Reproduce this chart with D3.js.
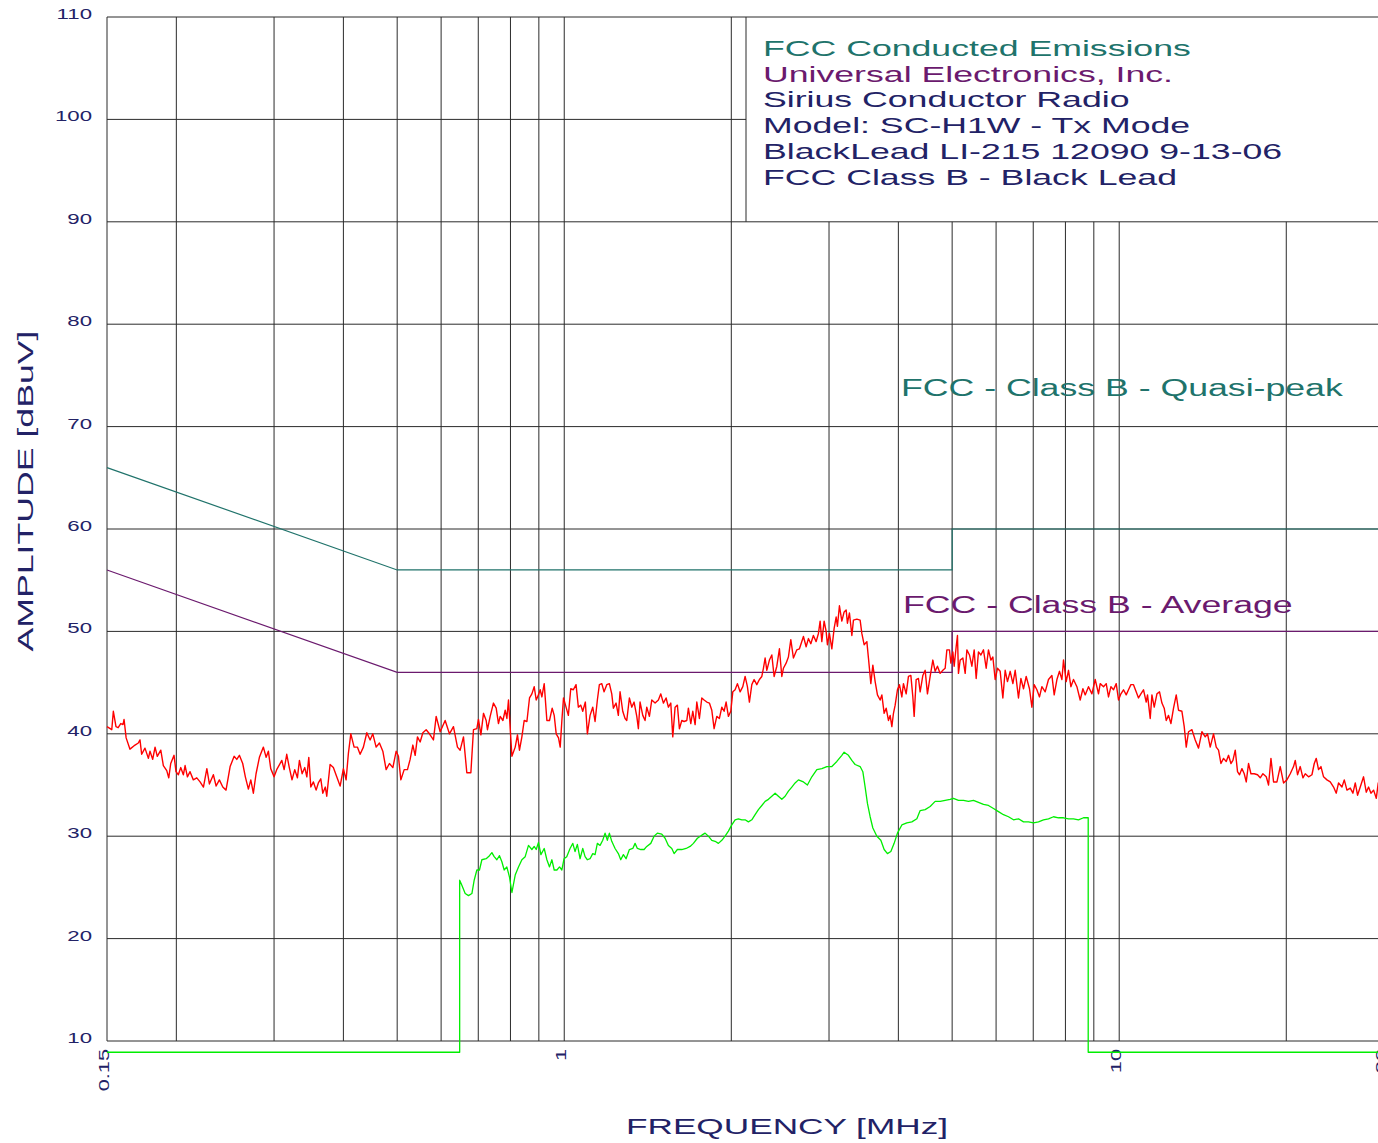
<!DOCTYPE html>
<html>
<head>
<meta charset="utf-8">
<script src="https://d3js.org/d3.v7.min.js"></script>
<style>
  html, body { margin: 0; padding: 0; background: #fff; overflow: hidden; }
  svg { display: block; font-family: "Liberation Sans", Arial, sans-serif; }
</style>
</head>
<body>
<svg id="chart" width="1378" height="1143"></svg>
<script>
// grid + tick values
const freqGrid = [0.15, 0.2, 0.3, 0.4, 0.5, 0.6, 0.7, 0.8, 0.9, 1, 2, 3, 4, 5, 6, 7, 8, 9, 10, 20, 30];
const freqLabels = [0.15, 1, 10, 30];
const ampTicks = [10, 20, 30, 40, 50, 60, 70, 80, 90, 100, 110];

const legendLines = [
    "FCC Conducted Emissions",
    "Universal Electronics, Inc.",
    "Sirius Conductor Radio",
    "Model: SC-H1W - Tx Mode",
    "BlackLead LI-215 12090 9-13-06",
    "FCC Class B - Black Lead"
];

// FCC class B limits [MHz, dBuV]
const qpLimit = [[0.15, 66], [0.5, 56], [5, 56], [5, 60], [30, 60]];
const avgLimit = [[0.15, 56], [0.5, 46], [5, 46], [5, 50], [30, 50]];

// peak sweep (red) [MHz, dBuV]
const peakData = [
[0.1500,40.7],[0.1530,40.4],[0.1540,42.2],[0.1557,40.7],[0.1571,40.6],[0.1588,41.0],[0.1603,40.9],[0.1610,41.4],[0.1624,39.6],[0.1650,38.5],
[0.1685,38.9],[0.1708,39.1],[0.1720,39.4],[0.1732,38.0],[0.1756,38.6],[0.1781,37.6],[0.1793,38.3],[0.1813,37.5],[0.1831,38.7],[0.1848,37.8],
[0.1875,38.4],[0.1895,36.9],[0.1922,36.4],[0.1938,35.7],[0.1954,37.1],[0.1981,37.9],[0.1997,36.3],[0.2017,36.0],[0.2037,36.7],[0.2059,36.0],
[0.2074,36.9],[0.2094,35.8],[0.2117,36.3],[0.2146,35.5],[0.2177,35.7],[0.2207,35.3],[0.2238,34.8],[0.2270,36.6],[0.2294,35.1],[0.2332,36.0],
[0.2359,34.9],[0.2391,35.5],[0.2425,34.8],[0.2458,34.5],[0.2500,36.8],[0.2542,37.8],[0.2570,37.5],[0.2598,37.9],[0.2634,37.1],[0.2663,35.8],
[0.2697,34.6],[0.2724,35.5],[0.2753,34.2],[0.2784,36.1],[0.2823,37.7],[0.2870,38.7],[0.2903,37.7],[0.2930,38.3],[0.2959,36.6],[0.3000,35.8],
[0.3033,36.5],[0.3098,37.4],[0.3128,36.5],[0.3162,38.0],[0.3196,36.7],[0.3232,35.5],[0.3269,36.5],[0.3305,35.7],[0.3333,37.4],[0.3370,36.1],
[0.3408,36.7],[0.3437,35.8],[0.3465,37.7],[0.3494,34.8],[0.3532,35.3],[0.3572,34.5],[0.3605,35.2],[0.3642,35.6],[0.3672,34.2],[0.3711,34.8],
[0.3733,33.9],[0.3785,37.0],[0.3837,36.7],[0.3891,35.8],[0.3946,34.9],[0.4000,36.6],[0.4045,35.5],[0.4084,38.1],[0.4125,40.0],[0.4182,38.7],
[0.4239,38.7],[0.4287,38.0],[0.4346,38.7],[0.4408,40.1],[0.4469,39.4],[0.4519,40.0],[0.4582,38.7],[0.4645,39.1],[0.4711,38.3],[0.4776,36.5],
[0.4842,37.1],[0.4911,36.7],[0.4979,38.3],[0.5026,37.8],[0.5077,35.5],[0.5147,36.5],[0.5218,36.5],[0.5276,37.5],[0.5336,38.9],[0.5387,37.9],
[0.5439,39.7],[0.5500,39.2],[0.5562,40.1],[0.5639,40.4],[0.5716,40.0],[0.5812,39.4],[0.5878,41.7],[0.5976,40.2],[0.6101,41.3],[0.6211,40.0],
[0.6315,40.7],[0.6421,38.7],[0.6493,38.4],[0.6583,39.7],[0.6675,36.2],[0.6788,36.2],[0.6862,40.4],[0.6958,40.5],[0.7006,41.4],[0.7076,39.9],
[0.7153,42.0],[0.7233,41.3],[0.7272,40.4],[0.7354,41.7],[0.7454,43.0],[0.7540,42.5],[0.7612,41.0],[0.7666,41.7],[0.7753,41.3],[0.7827,42.3],
[0.7882,41.5],[0.7935,43.3],[0.8048,37.8],[0.8159,38.7],[0.8236,39.9],[0.8305,38.4],[0.8388,39.7],[0.8469,41.3],[0.8565,41.2],[0.8658,43.5],
[0.8744,43.9],[0.8828,44.6],[0.8902,43.3],[0.8986,43.8],[0.9050,44.3],[0.9114,43.6],[0.9202,44.9],[0.9305,41.3],[0.9407,41.3],[0.9512,42.5],
[0.9592,41.8],[0.9672,40.0],[0.9765,39.6],[0.9834,38.7],[0.9902,41.3],[0.9969,43.5],[1.0075,42.6],[1.0172,41.8],[1.0274,44.4],[1.0385,44.3],
[1.0502,44.8],[1.0603,42.6],[1.0709,42.8],[1.0798,42.2],[1.0915,43.1],[1.1007,40.0],[1.1131,41.8],[1.1255,42.6],[1.1364,41.2],[1.1473,43.3],
[1.1569,44.8],[1.1685,44.9],[1.1797,44.1],[1.1930,44.8],[1.2059,44.9],[1.2179,43.9],[1.2261,42.5],[1.2399,43.0],[1.2517,41.8],[1.2606,44.1],
[1.2747,42.2],[1.2871,41.5],[1.2962,41.3],[1.3103,43.5],[1.3233,42.6],[1.3361,43.1],[1.3512,41.7],[1.3601,40.5],[1.3697,43.1],[1.3851,41.8],
[1.3985,41.3],[1.4083,42.6],[1.4237,41.7],[1.4379,43.3],[1.4578,43.0],[1.4779,43.3],[1.4927,43.9],[1.5089,43.0],[1.5259,43.5],[1.5405,42.6],
[1.5559,43.0],[1.5688,39.7],[1.5840,42.6],[1.5991,42.8],[1.6125,40.5],[1.6285,41.3],[1.6442,41.2],[1.6628,41.3],[1.6738,42.5],[1.6905,41.0],
[1.7047,42.2],[1.7211,40.9],[1.7333,43.1],[1.7520,41.5],[1.7695,43.5],[1.7865,43.3],[1.8066,43.1],[1.8263,43.0],[1.8445,42.3],[1.8623,40.5],
[1.8832,41.7],[1.9036,41.5],[1.9227,42.6],[1.9411,42.2],[1.9573,43.1],[1.9761,41.7],[1.9957,42.2],[2.0125,44.1],[2.0318,44.3],[2.0513,44.9],
[2.0743,44.1],[2.0977,44.6],[2.1179,45.6],[2.1382,44.6],[2.1560,43.1],[2.1776,44.8],[2.1985,45.3],[2.2231,44.8],[2.2474,45.3],[2.2699,45.6],
[2.2850,46.4],[2.3012,47.4],[2.3175,46.2],[2.3426,47.2],[2.3661,47.7],[2.3888,45.6],[2.4157,46.6],[2.4419,48.3],[2.4663,45.6],[2.4826,46.4],
[2.5107,46.9],[2.5348,47.5],[2.5601,49.2],[2.5879,47.4],[2.6247,48.2],[2.6533,48.3],[2.6978,49.5],[2.7281,48.5],[2.7541,49.3],[2.7816,48.8],
[2.8114,49.6],[2.8436,49.0],[2.8709,49.8],[2.8912,51.0],[2.9116,49.0],[2.9397,51.0],[2.9643,50.0],[2.9801,48.7],[3.0049,49.8],[3.0351,48.3],
[3.0643,50.3],[3.0899,51.4],[3.1064,50.5],[3.1323,52.5],[3.1636,51.0],[3.1940,51.9],[3.2207,52.1],[3.2380,50.8],[3.2652,51.8],[3.2980,49.6],
[3.3199,51.1],[3.3669,51.2],[3.4132,51.1],[3.4374,49.8],[3.4705,48.7],[3.5097,49.0],[3.5329,47.4],[3.5683,44.9],[3.5981,46.7],[3.6326,45.1],
[3.6674,43.8],[3.7087,43.3],[3.7350,43.8],[3.7709,42.0],[3.8025,42.5],[3.8387,41.3],[3.8658,41.8],[3.8932,40.7],[3.9192,42.0],[3.9470,42.8],
[3.9848,44.3],[4.0180,44.8],[4.0581,43.6],[4.0853,44.9],[4.1314,43.9],[4.1709,45.6],[4.2126,45.7],[4.2475,43.6],[4.2708,41.7],[4.3064,45.3],
[4.3476,45.4],[4.3784,44.1],[4.4276,45.7],[4.4703,46.2],[4.5130,43.9],[4.5639,45.6],[4.6150,47.2],[4.6597,46.1],[4.7043,46.6],[4.7573,45.9],
[4.8109,46.2],[4.8572,46.4],[4.8915,48.2],[4.9445,48.2],[4.9733,46.9],[5.0144,48.0],[5.0420,46.6],[5.0840,48.5],[5.1115,49.6],[5.1327,45.9],
[5.1690,47.2],[5.2272,47.4],[5.2776,45.9],[5.3150,48.2],[5.3727,47.7],[5.4263,46.6],[5.4785,48.2],[5.5241,45.4],[5.5771,48.0],[5.6332,47.7],
[5.6940,48.2],[5.7583,46.4],[5.8133,48.2],[5.8718,47.2],[5.9203,47.5],[5.9772,45.3],[6.0345,46.4],[6.1025,46.1],[6.1708,43.5],[6.2306,46.2],
[6.2902,45.1],[6.3611,46.1],[6.4330,44.9],[6.4947,46.2],[6.5841,43.5],[6.6503,45.4],[6.7225,44.4],[6.7982,45.6],[6.8917,44.4],[6.9604,42.6],
[7.0273,44.8],[7.1065,44.3],[7.1838,43.6],[7.2557,44.6],[7.3557,44.1],[7.4571,45.3],[7.5631,45.7],[7.6357,43.8],[7.7222,45.3],[7.8057,46.1],
[7.8836,45.3],[7.9364,47.2],[8.0257,45.1],[8.1025,46.2],[8.1837,44.6],[8.2724,45.3],[8.3900,44.6],[8.5055,43.3],[8.6016,44.4],[8.6841,43.8],
[8.8038,44.6],[8.9290,43.9],[9.0519,45.3],[9.1768,43.9],[9.2417,44.9],[9.3702,44.6],[9.4749,44.9],[9.5657,43.6],[9.6620,44.6],[9.7672,44.3],
[9.8768,44.9],[9.9710,43.3],[10.071,43.9],[10.180,44.3],[10.295,43.8],[10.393,44.3],[10.497,44.8],[10.611,44.8],[10.729,44.1],[10.833,43.5],
[10.941,43.9],[11.060,44.3],[11.185,43.1],[11.246,43.8],[11.373,41.5],[11.454,43.8],[11.564,42.6],[11.694,43.9],[11.821,44.1],[11.939,43.0],
[12.053,42.5],[12.154,41.3],[12.270,41.8],[12.393,41.0],[12.528,42.5],[12.669,43.8],[12.790,42.3],[12.971,42.2],[13.096,40.7],[13.206,38.7],
[13.332,40.2],[13.522,40.4],[13.708,39.4],[13.897,38.6],[14.094,40.2],[14.289,39.7],[14.425,40.0],[14.587,38.7],[14.789,40.0],[14.956,38.7],
[15.100,38.4],[15.250,37.1],[15.416,37.6],[15.590,37.3],[15.739,37.9],[15.896,37.1],[16.029,37.4],[16.183,38.4],[16.338,36.3],[16.475,36.0],
[16.640,36.6],[16.799,36.1],[16.939,35.3],[17.101,37.1],[17.272,36.1],[17.510,36.1],[17.752,36.0],[17.952,35.7],[18.154,36.1],[18.406,35.8],
[18.581,35.0],[18.768,37.6],[18.973,35.3],[19.240,35.3],[19.505,36.8],[19.774,35.2],[20.050,35.5],[20.332,36.1],[20.612,36.8],[20.759,37.4],
[20.957,36.0],[21.193,36.8],[21.433,35.7],[21.639,36.1],[21.936,35.8],[22.248,36.0],[22.462,37.1],[22.649,37.6],[22.866,36.5],[23.095,36.8],
[23.345,35.8],[23.678,35.5],[24.003,35.3],[24.337,34.8],[24.609,34.2],[24.845,35.2],[25.198,34.8],[25.440,35.5],[25.727,34.5],[26.081,34.7],
[26.373,34.2],[26.628,35.2],[26.882,34.0],[27.185,34.8],[27.559,35.8],[27.871,34.3],[28.139,34.8],[28.421,34.2],[28.733,34.5],[29.053,33.7],
[29.294,35.2],[30.000,34.4]
];

// average sweep (green) [MHz, dBuV]
const avgData = [
[0.15,8.9],[0.6480,8.9],[0.6480,25.7],[0.6539,25.2],[0.6630,24.4],[0.6721,24.2],[0.6817,24.4],[0.6882,25.7],[0.6959,26.7],[0.7035,26.7],
[0.7105,27.7],[0.7233,27.8],[0.7333,28.1],[0.7406,28.4],[0.7477,28.0],[0.7561,27.7],[0.7644,28.1],[0.7720,27.5],[0.7794,26.7],[0.7880,27.0],
[0.7968,26.0],[0.8048,24.5],[0.8159,26.2],[0.8271,27.0],[0.8388,27.7],[0.8504,28.0],[0.8621,29.1],[0.8744,28.7],[0.8828,29.0],[0.8902,28.7],
[0.8986,29.4],[0.9077,28.2],[0.9202,28.8],[0.9305,27.7],[0.9407,27.0],[0.9500,27.7],[0.9592,26.7],[0.9700,26.7],[0.9806,27.0],[0.9902,26.7],
[0.9992,27.8],[1.0104,28.0],[1.0244,28.8],[1.0362,29.3],[1.0459,28.5],[1.0559,29.2],[1.0678,27.8],[1.0798,28.8],[1.0903,28.0],[1.1007,27.7],
[1.1131,27.8],[1.1255,28.3],[1.1364,28.2],[1.1473,29.3],[1.1603,29.1],[1.1732,29.6],[1.1846,30.3],[1.1959,29.6],[1.2059,30.3],[1.2179,29.5],
[1.2348,28.8],[1.2517,28.3],[1.2642,27.7],[1.2780,28.2],[1.2924,27.8],[1.3103,28.7],[1.3290,28.8],[1.3417,29.3],[1.3545,28.8],[1.3737,28.7],
[1.3927,28.7],[1.4083,29.0],[1.4319,29.3],[1.4517,30.0],[1.4717,30.3],[1.4988,30.2],[1.5196,29.8],[1.5405,29.1],[1.5624,28.8],[1.5774,28.3],
[1.5991,28.7],[1.6285,28.7],[1.6579,28.8],[1.6857,29.0],[1.7090,29.3],[1.7375,29.8],[1.7695,30.1],[1.7939,30.3],[1.8187,30.0],[1.8445,29.6],
[1.8700,29.5],[1.8957,29.3],[1.9227,29.6],[1.9492,30.0],[1.9761,30.5],[2.0040,31.1],[2.0318,31.6],[2.0598,31.7],[2.0890,31.6],[2.1179,31.6],
[2.1471,31.4],[2.1776,31.6],[2.2077,32.1],[2.2381,32.6],[2.2699,33.0],[2.3012,33.4],[2.3329,33.6],[2.3661,33.9],[2.3987,34.2],[2.4317,33.9],
[2.4663,33.6],[2.5003,33.9],[2.5348,34.4],[2.5709,34.8],[2.6063,35.2],[2.6423,35.5],[2.6978,35.3],[2.7427,35.0],[2.7934,35.8],[2.8519,36.5],
[2.9118,36.6],[2.9728,36.8],[3.0353,36.8],[3.0988,37.3],[3.1638,37.9],[3.1940,38.2],[3.2515,37.9],[3.2980,37.4],[3.3433,37.0],[3.4132,36.8],
[3.4517,36.3],[3.4849,34.8],[3.5183,33.2],[3.5579,31.9],[3.5981,30.8],[3.6584,30.0],[3.7195,29.6],[3.7709,28.7],[3.8228,28.3],[3.8771,28.5],
[3.9306,29.3],[3.9848,30.3],[4.0581,31.1],[4.1435,31.3],[4.2305,31.4],[4.3190,31.7],[4.3784,32.5],[4.4703,32.6],[4.5639,32.9],[4.6597,33.4],
[4.7573,33.4],[4.8572,33.5],[4.9589,33.6],[5.0273,33.7],[5.1327,33.5],[5.2414,33.5],[5.3502,33.4],[5.4633,33.5],[5.5771,33.3],[5.6940,33.1],
[5.8133,33.0],[5.9355,32.7],[6.0597,32.4],[6.1868,32.1],[6.3165,31.9],[6.4489,31.6],[6.5841,31.7],[6.7225,31.4],[6.8631,31.4],[7.0072,31.3],
[7.1540,31.4],[7.3042,31.6],[7.4571,31.7],[7.6138,31.9],[7.7731,31.8],[7.9364,31.8],[8.1025,31.7],[8.2724,31.7],[8.4458,31.6],[8.6231,31.8],
[8.7468,31.8],[8.7927,31.8],[8.7927,8.9],[30,8.9]
];

const svg = d3.select("#chart");

// plot frame in pixels
const plotLeft = 107, plotRight = 1384, plotTop = 17, plotBottom = 1041;
const boxLeft = 746; // legend box left edge

const x = d3.scaleLog().domain([0.15, 30]).range([plotLeft, plotRight]);
const y = d3.scaleLinear().domain([10, 110]).range([plotBottom, plotTop]);

const gridColor = "#2b2b2b";
const navy = "#222266";
const teal = "#20736b";
const purple = "#6b1a6e";

// stretch text horizontally like the original wide lettering
function stretch(sel, k) {
    sel.each(function () {
        const w = this.getComputedTextLength();
        d3.select(this).attr("textLength", w * k).attr("lengthAdjust", "spacingAndGlyphs");
    });
}

// --- grid ---
const grid = svg.append("g").attr("stroke", gridColor).attr("stroke-width", 1);

grid.selectAll("line.v")
    .data(freqGrid)
    .enter().append("line")
    .attr("x1", d => x(d)).attr("x2", d => x(d))
    .attr("y1", d => x(d) > boxLeft ? y(90) : y(110))
    .attr("y2", y(10));

grid.selectAll("line.h")
    .data(ampTicks)
    .enter().append("line")
    .attr("x1", plotLeft)
    .attr("x2", d => d === 100 ? boxLeft : plotRight)
    .attr("y1", d => y(d)).attr("y2", d => y(d));

// legend box border
grid.append("line")
    .attr("x1", boxLeft).attr("x2", boxLeft)
    .attr("y1", y(110)).attr("y2", y(90));

// --- y tick labels ---
svg.append("g").selectAll("text")
    .data(ampTicks)
    .enter().append("text")
    .attr("x", 92)
    .attr("y", d => y(d) + 2)
    .attr("text-anchor", "end")
    .attr("font-size", 15)
    .attr("fill", navy)
    .text(d => d)
    .call(stretch, 1.48);

// --- x tick labels (rotated) ---
svg.append("g").selectAll("text")
    .data(freqLabels)
    .enter().append("text")
    .attr("transform", d => `translate(${x(d) + 1.5},${plotBottom + 8}) rotate(-90)`)
    .attr("text-anchor", "end")
    .attr("font-size", 15)
    .attr("fill", navy)
    .text(d => d)
    .call(stretch, 1.45);

// --- axis titles ---
svg.append("text")
    .attr("transform", `translate(33,491) rotate(-90)`)
    .attr("text-anchor", "middle")
    .attr("font-size", 22)
    .attr("fill", navy)
    .text("AMPLITUDE [dBuV]")
    .call(stretch, 1.62);

svg.append("text")
    .attr("x", 787)
    .attr("y", 1134)
    .attr("text-anchor", "middle")
    .attr("font-size", 22)
    .attr("fill", navy)
    .text("FREQUENCY [MHz]")
    .call(stretch, 1.6);

// --- limit lines ---
const line = d3.line().x(d => x(d[0])).y(d => y(d[1]));

svg.append("path").datum(qpLimit)
    .attr("fill", "none").attr("stroke", teal).attr("stroke-width", 1.2)
    .attr("d", line);

svg.append("path").datum(avgLimit)
    .attr("fill", "none").attr("stroke", purple).attr("stroke-width", 1.2)
    .attr("d", line);

// --- measured traces ---
svg.append("path").datum(avgData)
    .attr("fill", "none").attr("stroke", "#00ee00").attr("stroke-width", 1.3)
    .attr("stroke-linejoin", "round")
    .attr("d", line);

svg.append("path").datum(peakData)
    .attr("fill", "none").attr("stroke", "#ff0000").attr("stroke-width", 1.4)
    .attr("stroke-linejoin", "round")
    .attr("d", line);

// --- limit labels ---
svg.append("text")
    .attr("x", 901).attr("y", 396)
    .attr("font-size", 23).attr("fill", teal)
    .text("FCC - Class B - Quasi-peak")
    .call(stretch, 1.55);

svg.append("text")
    .attr("x", 903).attr("y", 613)
    .attr("font-size", 23).attr("fill", purple)
    .text("FCC - Class B - Average")
    .call(stretch, 1.55);

// --- legend text ---
const legendColors = [teal, purple, navy, navy, navy, navy];
svg.append("g").selectAll("text")
    .data(legendLines)
    .enter().append("text")
    .attr("x", 763)
    .attr("y", (d, i) => 56 + i * 25.7)
    .attr("font-size", 22)
    .attr("fill", (d, i) => legendColors[i])
    .text(d => d)
    .call(stretch, 1.62);
</script>
</body>
</html>
